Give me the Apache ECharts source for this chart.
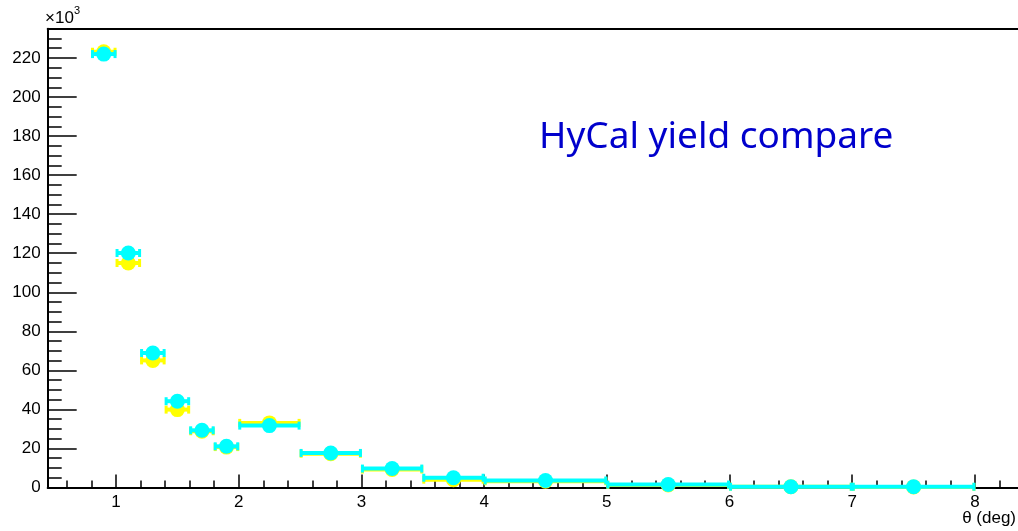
<!DOCTYPE html>
<html>
<head>
<meta charset="utf-8">
<script src="https://cdn.jsdelivr.net/npm/echarts@6/dist/echarts.min.js"></script>
<style>
html,body{margin:0;padding:0;background:#fff;}
#chart{width:1018px;height:531px;}
</style>
</head>
<body>
<div id="chart"></div>
<script>
// ---- data (values in units of 10^3) ----
const binCenters = [0.9, 1.1, 1.3, 1.5, 1.7, 1.9, 2.25, 2.75, 3.25, 3.75, 4.5, 5.5, 6.5, 7.5];
const binLow     = [0.8, 1.0, 1.2, 1.4, 1.6, 1.8, 2.0, 2.5, 3.0, 3.5, 4.0, 5.0, 6.0, 7.0];
const binHigh    = [1.0, 1.2, 1.4, 1.6, 1.8, 2.0, 2.5, 3.0, 3.5, 4.0, 5.0, 6.0, 7.0, 8.0];
const yieldYellow = [223.2, 115.0, 65.1, 39.9, 28.8, 20.7, 33.1, 17.3, 9.2, 4.0, 3.2, 1.3, 0.4, 0.3];
const yieldCyan   = [222.0, 120.1, 68.9, 44.2, 29.3, 21.1, 31.7, 17.7, 9.7, 5.0, 3.6, 1.5, 0.4, 0.4];
const xMajorTicks = [1, 2, 3, 4, 5, 6, 7, 8];
const yMajorTicks = [0, 20, 40, 60, 80, 100, 120, 140, 160, 180, 200, 220];
const xMinorTicks = [];
for (let k = 3; k <= 41; k++) { if (k % 5 !== 0) xMinorTicks.push(+(k * 0.2).toFixed(1)); }
const yMinorTicks = [];
for (let v = 5; v <= 230; v += 5) { if (v % 20 !== 0) yMinorTicks.push(v); }

const X_MIN = 0.443, X_MAX = 8.351, Y_MIN = 0, Y_MAX = 235;
const YELLOW = '#ffff00', CYAN = '#00ffff';
const FONT = 'Liberation Sans, Arial, sans-serif';

function errBar(color) {
  return function (params, api) {
    const lo = api.coord([api.value(0), api.value(2)]);
    const hi = api.coord([api.value(1), api.value(2)]);
    const st = { stroke: color, lineWidth: 4 };
    const cap = { stroke: color, lineWidth: 3 };
    return {
      type: 'group',
      children: [
        { type: 'line', shape: { x1: lo[0], y1: lo[1], x2: hi[0], y2: hi[1] }, style: st },
        { type: 'line', shape: { x1: lo[0] + 1, y1: lo[1] - 4, x2: lo[0] + 1, y2: lo[1] + 4 }, style: cap },
        { type: 'line', shape: { x1: hi[0] - 1, y1: hi[1] - 4, x2: hi[0] - 1, y2: hi[1] + 4 }, style: cap }
      ]
    };
  };
}
function barData(vals) { return binLow.map((l, i) => [l, binHigh[i], vals[i]]); }
function ptData(vals) { return binCenters.map((c, i) => [c, vals[i]]); }

const chart = echarts.init(document.getElementById('chart'), null, { renderer: 'canvas' });
chart.setOption({
  animation: false,
  backgroundColor: '#fff',
  grid: {
    left: 47.7, top: 28.7, right: 0, height: 458.8, show: false
  },
  xAxis: [
    {
      type: 'value', min: X_MIN, max: X_MAX, position: 'bottom',
      axisLine: { show: true, onZero: false, lineStyle: { color: '#000', width: 2 } },
      axisTick: { show: true, inside: true, length: 13, customValues: xMajorTicks, lineStyle: { color: '#000', width: 1.5 } },
      axisLabel: { show: true, customValues: xMajorTicks, margin: 6, color: '#000', fontSize: 17, fontFamily: FONT },
      splitLine: { show: false }
    },
    {
      type: 'value', min: X_MIN, max: X_MAX, position: 'bottom',
      axisLine: { show: false },
      axisTick: { show: true, inside: true, length: 7, customValues: xMinorTicks, lineStyle: { color: '#000', width: 1.5 } },
      axisLabel: { show: false },
      splitLine: { show: false }
    },
    {
      type: 'value', min: X_MIN, max: X_MAX, position: 'top',
      axisLine: { show: true, onZero: false, lineStyle: { color: '#000', width: 2 } },
      axisTick: { show: false }, axisLabel: { show: false }, splitLine: { show: false }
    }
  ],
  yAxis: [
    {
      type: 'value', min: Y_MIN, max: Y_MAX, position: 'left',
      axisLine: { show: true, onZero: false, lineStyle: { color: '#000', width: 2 } },
      axisTick: { show: true, inside: true, length: 29, customValues: yMajorTicks, lineStyle: { color: '#000', width: 1.5 } },
      axisLabel: { show: true, customValues: yMajorTicks, margin: 7, color: '#000', fontSize: 17, fontFamily: FONT },
      splitLine: { show: false }
    },
    {
      type: 'value', min: Y_MIN, max: Y_MAX, position: 'left',
      axisLine: { show: false },
      axisTick: { show: true, inside: true, length: 14, customValues: yMinorTicks, lineStyle: { color: '#000', width: 1.5 } },
      axisLabel: { show: false },
      splitLine: { show: false }
    }
  ],
  graphic: [
    { type: 'text', left: 539, top: 119, style: { text: 'HyCal yield compare', fill: '#0000cc', fontSize: 37, fontFamily: 'Noto Sans, sans-serif' } },
    { type: 'text', left: 45, top: 10, style: { text: '×10', fill: '#000', fontSize: 17, fontFamily: FONT } },
    { type: 'text', left: 74, top: 5, style: { text: '3', fill: '#000', fontSize: 11, fontFamily: FONT } },
    { type: 'text', right: 2, top: 510, style: { text: 'θ (deg)', fill: '#000', fontSize: 17, fontFamily: FONT } }
  ],
  series: [
    { type: 'custom', name: 'yellowBars', xAxisIndex: 0, yAxisIndex: 0, renderItem: errBar(YELLOW), encode: { x: [0, 1], y: 2 }, data: barData(yieldYellow), z: 2 },
    { type: 'scatter', name: 'yellow', xAxisIndex: 0, yAxisIndex: 0, symbol: 'circle', symbolSize: 15, itemStyle: { color: YELLOW, opacity: 1 }, data: ptData(yieldYellow), z: 3, clip: false },
    { type: 'custom', name: 'cyanBars', xAxisIndex: 0, yAxisIndex: 0, renderItem: errBar(CYAN), encode: { x: [0, 1], y: 2 }, data: barData(yieldCyan), z: 4 },
    { type: 'scatter', name: 'cyan', xAxisIndex: 0, yAxisIndex: 0, symbol: 'circle', symbolSize: 15, itemStyle: { color: CYAN, opacity: 1 }, data: ptData(yieldCyan), z: 5, clip: false }
  ]
});
</script>
</body>
</html>
